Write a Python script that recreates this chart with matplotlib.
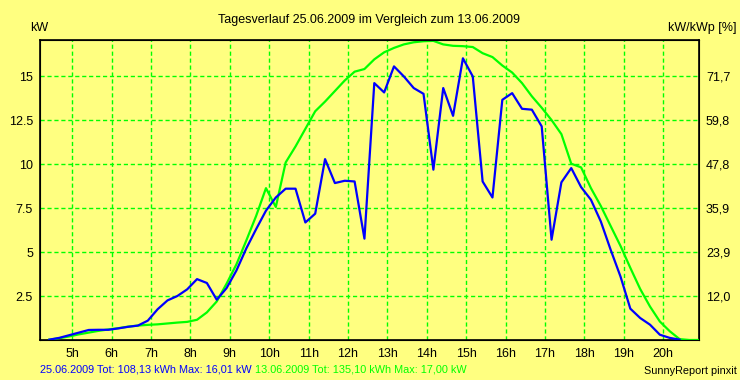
import numpy as np
import matplotlib.pyplot as plt

plt.rcParams['font.family'] = ['Liberation Sans', 'DejaVu Sans']

# 15-Minuten-Werte, Zeitstempel x:10, x:25, x:40, x:55
t_blau = np.arange(4 + 25 / 60, 20.5, 0.25)
p_blau = [0.02, 0.12, 0.27, 0.42, 0.57, 0.58, 0.58, 0.66, 0.75, 0.82,
          1.10, 1.75, 2.25, 2.50, 2.88, 3.46, 3.24, 2.29, 2.95, 3.95,
          5.20, 6.30, 7.35, 8.10, 8.60, 8.60, 6.68, 7.18, 10.28, 8.92,
          9.05, 9.01, 5.76, 14.60, 14.07, 15.55, 14.98, 14.32, 13.99, 9.68,
          14.32, 12.74, 16.01, 14.98, 9.01, 8.10, 13.65, 14.03, 13.14, 13.09,
          12.14, 5.70, 8.96, 9.77, 8.69, 7.97, 6.74, 5.13, 3.61, 1.78,
          1.25, 0.87, 0.30, 0.12, 0.02]

t_gruen = np.arange(4 + 25 / 60, 21.0, 0.25)
p_gruen = [0.02, 0.10, 0.20, 0.32, 0.42, 0.52, 0.60, 0.67, 0.76, 0.82,
           0.86, 0.89, 0.94, 0.99, 1.03, 1.15, 1.57, 2.19, 3.20, 4.30,
           5.65, 7.05, 8.63, 7.56, 10.09, 11.00, 12.00, 13.00, 13.55, 14.15,
           14.75, 15.25, 15.40, 15.95, 16.35, 16.60, 16.80, 16.92, 16.98, 17.00,
           16.80, 16.72, 16.70, 16.65, 16.30, 16.08, 15.60, 15.20, 14.60, 13.85,
           13.20, 12.50, 11.70, 10.02, 9.81, 8.63, 7.62, 6.48, 5.35, 4.10,
           2.90, 1.90, 1.05, 0.50, 0.05, 0.00, 0.00]

stunden = list(range(5, 21))
stunden_txt = [f'{h}h' for h in stunden]
y_ticks = [2.5, 5, 7.5, 10, 12.5, 15]
y_txt = ['2.5', '5', '7.5', '10', '12.5', '15']
y_rechts = ['12,0', '23,9', '35,9', '47,8', '59,8', '71,7']

gelb = '#FFFF80'
fig = plt.figure(figsize=(7.4, 3.8), dpi=100, facecolor=gelb)
ax = fig.add_axes([40 / 740, 40 / 380, 659 / 740, 300 / 380], facecolor=gelb)

ax.plot(t_gruen, p_gruen, color='#00FF00', lw=1.6, zorder=3)
ax.plot(t_blau, p_blau, color='#0000FF', lw=1.6, zorder=4)

ax.set_xlim(4.18, 20.91)
ax.set_ylim(0, 17.05)
ax.set_xticks(stunden)
ax.set_xticklabels(stunden_txt)
ax.set_yticks(y_ticks)
ax.set_yticklabels(y_txt)
ax.grid(True, color='#00FF00', lw=1, ls=(0, (3, 2)))
ax.tick_params(length=0, labelsize=9, pad=5)
ax.tick_params(axis='x', pad=6)
for s in ax.spines.values():
    s.set_linewidth(1.2)

ax2 = ax.twinx()
ax2.set_ylim(ax.get_ylim())
ax2.set_yticks(y_ticks)
ax2.set_yticklabels(y_rechts)
ax2.tick_params(length=0, labelsize=9, pad=5)

fig.text(369 / 740, 1 - 20 / 380, 'Tagesverlauf 25.06.2009 im Vergleich zum 13.06.2009',
         ha='center', va='center', fontsize=9)
fig.text(30 / 740, 1 - 28 / 380, 'kW', ha='left', va='center', fontsize=9)
fig.text(737 / 740, 1 - 28 / 380, 'kW/kWp [%]', ha='right', va='center', fontsize=9)
txt_blau = fig.text(40 / 740, 1 - 369 / 380, '25.06.2009 Tot: 108,13 kWh Max: 16,01 kW',
                    ha='left', va='center', fontsize=7.8, color='#0000FF')
fig.text(0, 0, '')
ax.annotate('13.06.2009 Tot: 135,10 kWh Max: 17,00 kW', xy=(1, 0.5), xycoords=txt_blau,
            xytext=(3, 0), textcoords='offset pixels', ha='left', va='center',
            fontsize=7.8, color='#00FF00', annotation_clip=False)
fig.text(737 / 740, 1 - 371 / 380, 'SunnyReport pinxit', ha='right', va='center', fontsize=7.8)

fig.savefig('out.png', dpi=100, facecolor=gelb)
